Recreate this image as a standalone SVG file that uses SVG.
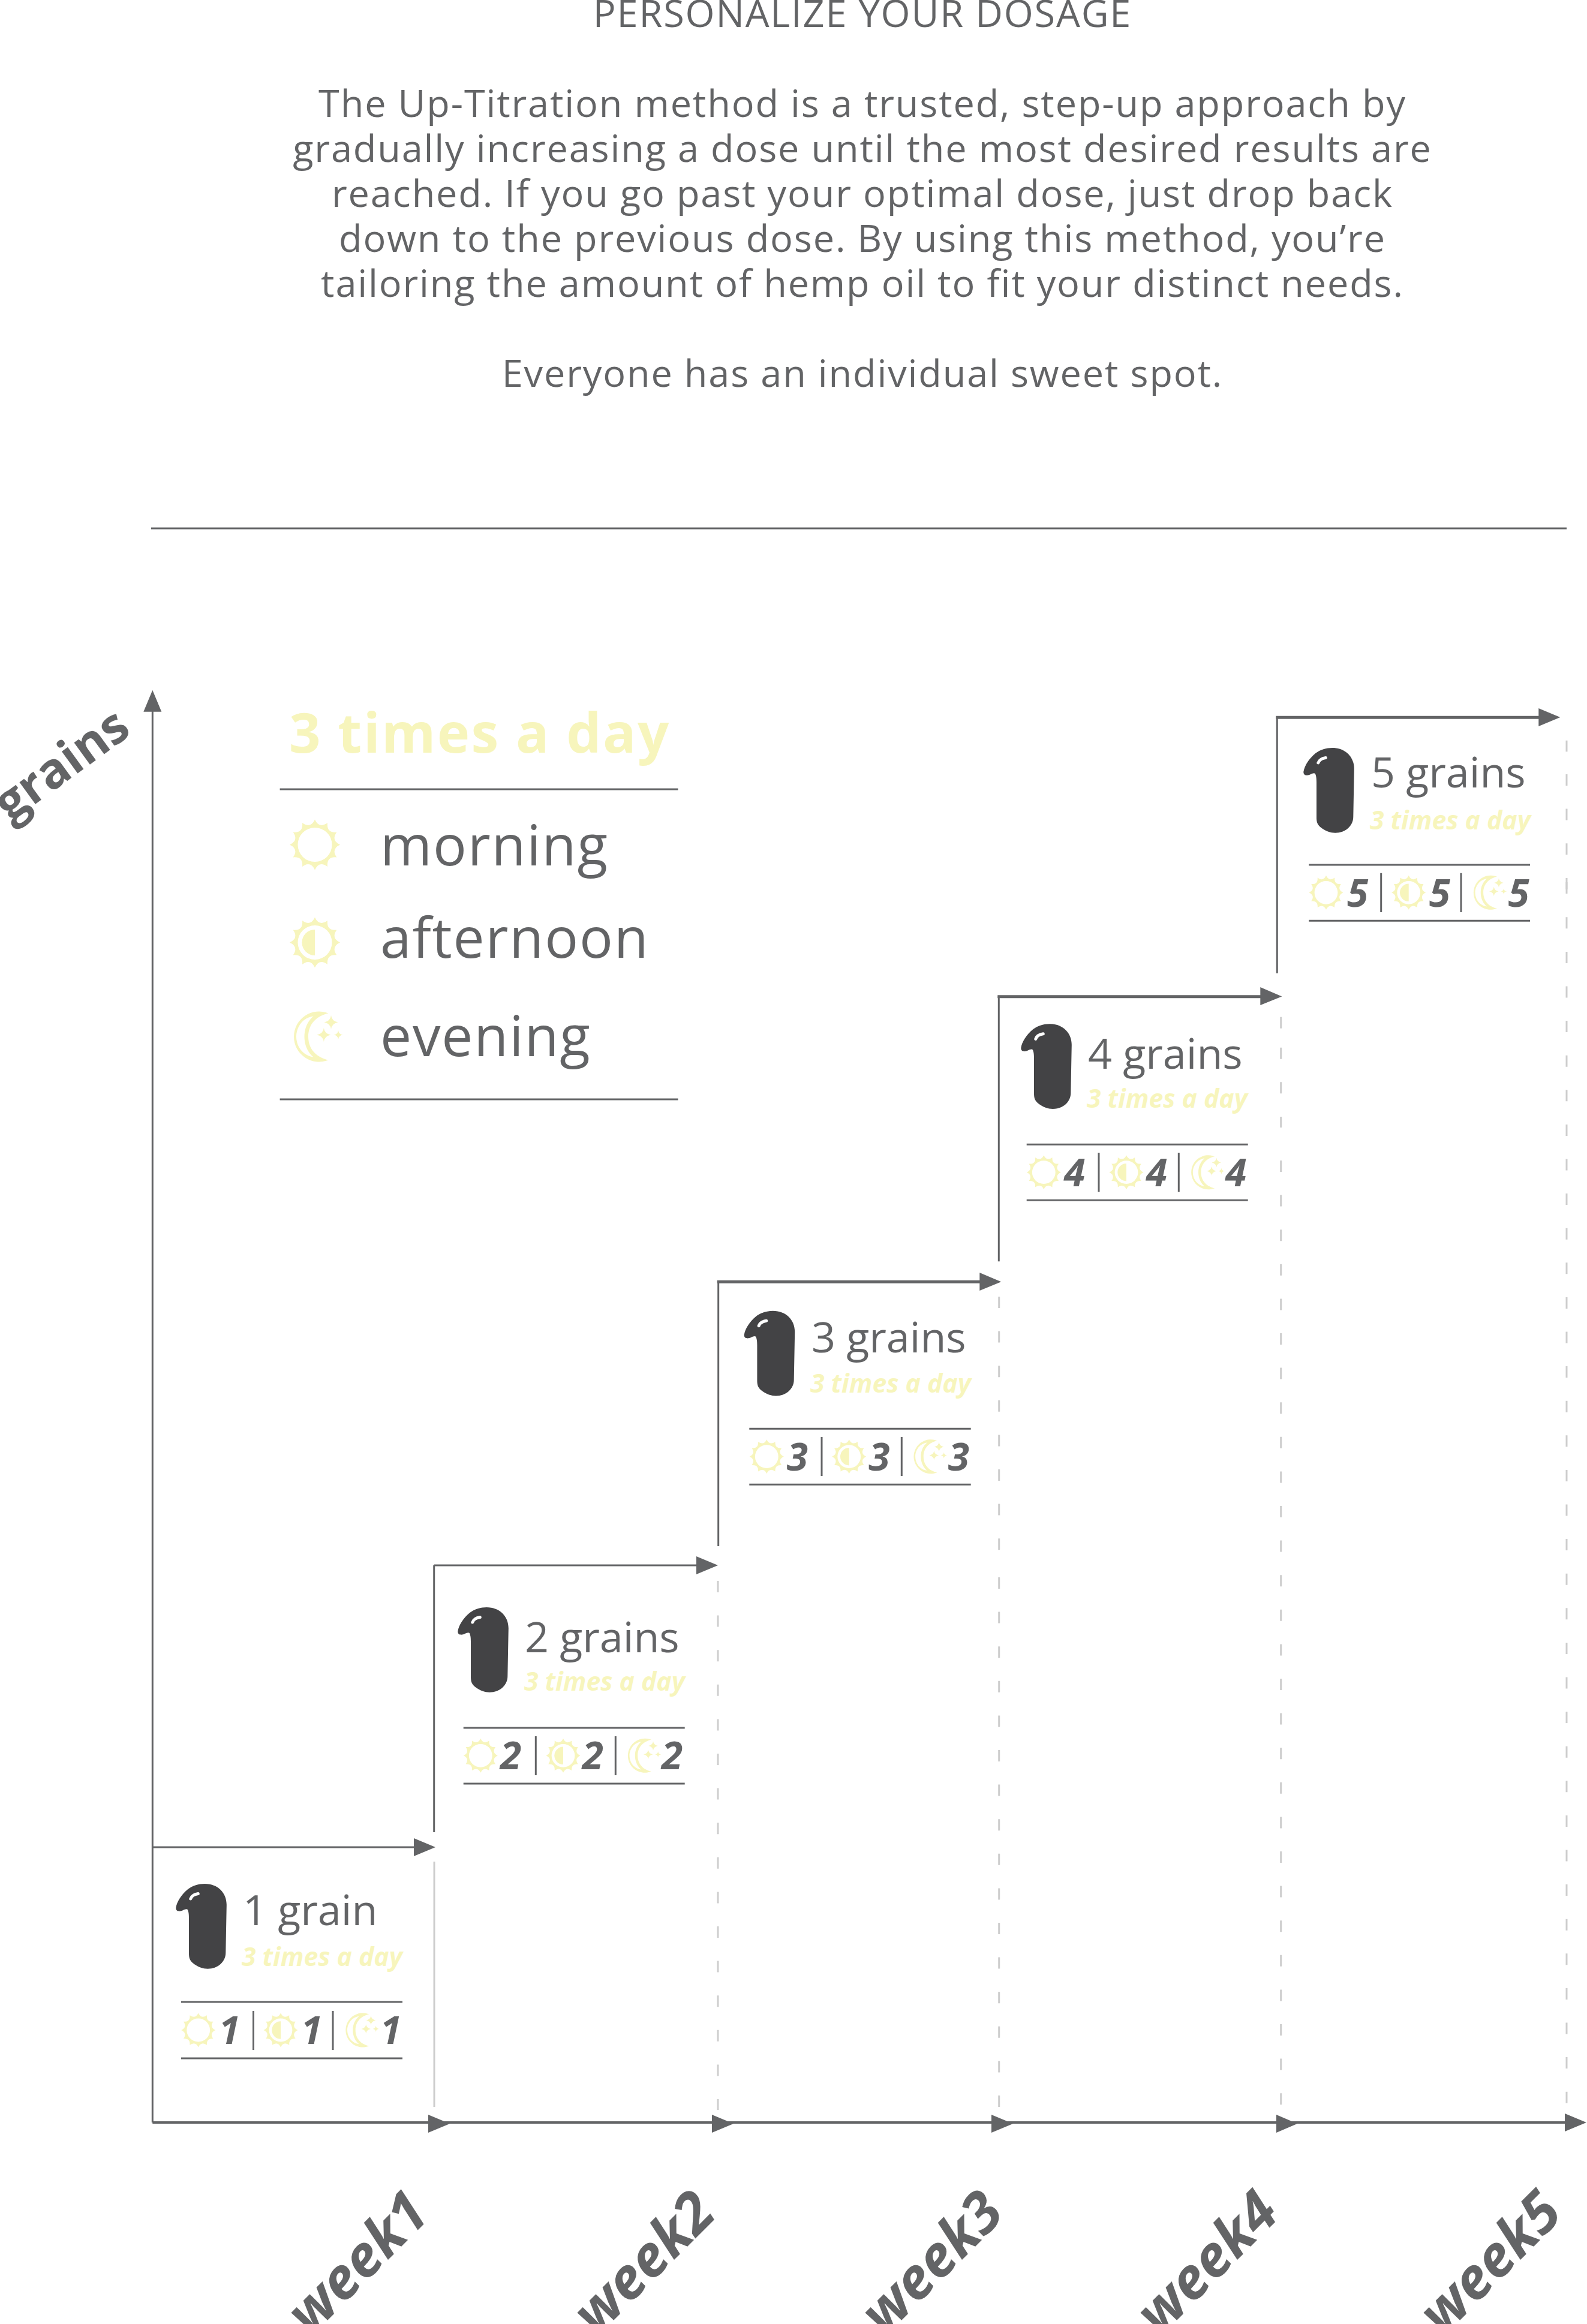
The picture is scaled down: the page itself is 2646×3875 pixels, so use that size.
<svg xmlns="http://www.w3.org/2000/svg" width="2646" height="3875" viewBox="0 0 2646 3875">
<style>
text{font-family:"Open Sans","Noto Sans",sans-serif;fill:#636466}
.intro{font-size:63px;text-anchor:middle;letter-spacing:1.85px}
.ttl{font-size:70px;font-weight:400}
.sub{font-size:42.7px;font-weight:700;font-style:italic;fill:#f7f5bc}
.num{font-size:64px;font-weight:700;font-style:italic}
.leg{font-size:93px;letter-spacing:1.8px}
.axl{font-size:95px;font-weight:700;font-style:italic}
.rule{stroke:#636466;stroke-width:3;fill:none}
.step{stroke:#636466;stroke-width:4;fill:none}
.dash{stroke:#cdcdcd;stroke-width:3;stroke-dasharray:19 38.6;fill:none}
.ico{fill:#f7f5bc}
.head{fill:#636466}
</style>
<defs>
<path id="sunrays" d="M0,-42Q7.1,-26.6 21,-36.4Q19.4,-19.4 36.4,-21Q26.6,-7.1 42,0Q26.6,7.1 36.4,21Q19.4,19.4 21,36.4Q7.1,26.6 0,42Q-7.1,26.6 -21,36.4Q-19.4,19.4 -36.4,21Q-26.6,7.1 -42,0Q-26.6,-7.1 -36.4,-21Q-19.4,-19.4 -21,-36.4Q-7.1,-26.6 0,-42ZM0,-28.5A28.5,28.5 0 1 0 0,28.5A28.5,28.5 0 1 0 0,-28.5Z" fill-rule="evenodd"/>
<g id="sun" class="ico"><use href="#sunrays"/></g>
<g id="half" class="ico"><use href="#sunrays"/><path d="M0,-21.6A21.6,21.6 0 0 0 0,21.6Z"/></g>
<g id="moon" class="ico"><path fill-rule="evenodd" d="M20.6,-39A42,42 0 1 0 20.6,39C2,35 -13,22 -13,0C-13,-22 2,-35 20.6,-39ZM-4.5,-34C-22,-32 -33,-16 -33,0C-33,16 -22,32 -4.5,34C-14,26 -19.5,14 -19.5,0C-19.5,-14 -14,-26 -4.5,-34Z"/><path d="M12.9,-14.5Q14,-5 24.4,-3Q14,-1 12.9,8.5Q11.8,-1 1.4,-3Q11.8,-5 12.9,-14.5Z"/><path d="M25,-35.5Q26.1,-26 36.5,-24Q26.1,-22 25,-12.5Q23.9,-22 13.5,-24Q23.9,-26 25,-35.5Z"/><path d="M37,-10.5Q37.7,-4 44.5,-3Q37.7,-2 37,4.5Q36.3,-2 29.5,-3Q36.3,-4 37,-10.5Z"/></g>
<g id="pill"><path fill="#434345" d="M0,40C1.5,30 9,18 20,9C28,3 38,0 48,0C70,0 84.5,15 84.5,35L83,115C83,130 70,141.7 53,141.7C45,141.7 37,139 28,132C22,127 21.7,121 21.7,115L21.7,57C21.7,50 21,46 19.5,43C18,41.5 15,42.5 12,44C7,46.5 0,47 0,40Z"/><path fill="none" stroke="#fff" stroke-width="5" stroke-linecap="round" d="M24.5,25Q27,18 37,16.5"/></g>
</defs>
<rect width="2646" height="3875" fill="#fff"/>

<g id="intro">
<text class="intro" x="1438" y="45">PERSONALIZE YOUR DOSAGE</text>
<text class="intro" x="1438" y="195">The Up-Titration method is a trusted, step-up approach by</text>
<text class="intro" x="1438" y="270">gradually increasing a dose until the most desired results are</text>
<text class="intro" x="1438" y="345">reached. If you go past your optimal dose, just drop back</text>
<text class="intro" x="1438" y="420">down to the previous dose. By using this method, you’re</text>
<text class="intro" x="1438" y="495">tailoring the amount of hemp oil to fit your distinct needs.</text>
<text class="intro" x="1438" y="645">Everyone has an individual sweet spot.</text>
<line class="rule" x1="252" y1="881" x2="2612" y2="881"/>
</g>

<g id="connectors">
<path class="rule" d="M254.3,1185V3539"/>
<path class="head" d="M254.3,1150.7L269.3,1186.7H239.3Z"/>
<path class="step" d="M254.3,3539H2612"/>
<path class="head" d="M714,3526L750,3541L714,3556Z"/>
<path class="head" d="M1187,3526L1223,3541L1187,3556Z"/>
<path class="head" d="M1653,3526L1689,3541L1653,3556Z"/>
<path class="head" d="M2128,3526L2163,3541L2128,3556Z"/>
<path class="head" d="M2609,3524L2645,3539L2609,3554Z"/>

<path class="rule" d="M254.3,3080H692"/><path class="head" d="M690,3065L726,3080L690,3095Z"/>
<path class="rule" d="M723.7,2610V3055"/>
<path class="rule" d="M723.7,2610H1163"/><path class="head" d="M1161,2595L1197,2610L1161,2625Z"/>
<path class="rule" d="M1197.7,2137V2578"/>
<path class="step" style="stroke-width:5" d="M1195.7,2137.3H1635"/><path class="head" d="M1633.3,2122L1669.3,2137.3L1633.3,2152Z"/>
<path class="rule" d="M1665.3,1661V2103.3"/>
<path class="step" style="stroke-width:5" d="M1663.3,1661.7H2103"/><path class="head" d="M2101.3,1646L2137.3,1661.5L2101.3,1676Z"/>
<path class="rule" d="M2129.3,1196V1622.7"/>
<path class="step" style="stroke-width:5" d="M2127.3,1196.3H2567"/><path class="head" d="M2565.3,1181L2601.3,1196L2565.3,1211Z"/>

<path d="M724,3104V3513" fill="none" stroke="#cdcdcd" stroke-width="3"/>
<path class="dash" d="M1197,2636V3518"/>
<path class="dash" d="M1665.7,2162V2590"/>
<path class="dash" d="M1665.7,2630V3513"/>
<path class="dash" d="M2135.7,1695.7V1715"/>
<path class="dash" d="M2135.7,1746.7V1880"/>
<path class="dash" d="M2135.7,1935V3513"/>
<path class="dash" d="M2612,1234.7V1253.3"/>
<path class="dash" d="M2612,1291V1425"/>
<path class="dash" d="M2612,1464V1483"/>
<path class="dash" d="M2612,1471V1490"/>
<path class="dash" d="M2612,1529.3V3513"/>
</g>

<g id="axis-y-label"><text transform="translate(16,1372) rotate(-36)" style="font-size:82.5px;font-weight:700">grains</text></g>
<g id="week1-label"><text class="axl" transform="translate(518,3897) rotate(-45)">week1</text></g>
<g id="week2-label"><text class="axl" transform="translate(995,3897) rotate(-45)">week2</text></g>
<g id="week3-label"><text class="axl" transform="translate(1475,3897) rotate(-45)">week3</text></g>
<g id="week4-label"><text class="axl" transform="translate(1934,3897) rotate(-45)">week4</text></g>
<g id="week5-label"><text class="axl" transform="translate(2406,3897) rotate(-45)">week5</text></g>

<g id="legend">
<text x="482" y="1255" style="font-size:92px;font-weight:700;fill:#f7f5bc;letter-spacing:2.4px">3 times a day</text>
<line class="rule" x1="466.6" y1="1316" x2="1130.5" y2="1316"/>
<use href="#sun" x="525" y="1408.5"/>
<text class="leg" x="634" y="1443">morning</text>
<use href="#half" x="525" y="1571.5"/>
<text class="leg" x="634" y="1597">afternoon</text>
<use href="#moon" x="527" y="1728.5"/>
<text class="leg" x="634" y="1761">evening</text>
<line class="rule" x1="466.6" y1="1833" x2="1130.5" y2="1833"/>
</g>

<g id="card1">
<use href="#pill" x="293.3" y="3141"/>
<text class="ttl" x="405" y="3210">1 grain</text>
<text class="sub" x="403" y="3278">3 times a day</text>
<path class="rule" d="M302,3338H671M302,3432H671M422.5,3353V3418M555,3353V3418"/>
<use href="#sun" transform="translate(330.7,3385) scale(.68)"/>
<use href="#half" transform="translate(468,3385) scale(.68)"/>
<use href="#moon" transform="translate(601.5,3385) scale(.68)"/>
<text class="num" x="365" y="3408">1</text><text class="num" x="502" y="3408">1</text><text class="num" x="634" y="3408">1</text>
</g>
<g id="card2">
<use href="#pill" x="763.3" y="2680"/>
<text class="ttl" x="875" y="2755.3">2 grains</text>
<text class="sub" x="874" y="2819.3">3 times a day</text>
<path class="rule" d="M772.7,2881H1141.7M772.7,2974H1141.7M893.3,2895V2960M1026.3,2895V2960"/>
<use href="#sun" transform="translate(801.3,2927.3) scale(.68)"/>
<use href="#half" transform="translate(939,2927.3) scale(.68)"/>
<use href="#moon" transform="translate(1072,2927.3) scale(.68)"/>
<text class="num" x="834" y="2950">2</text><text class="num" x="970.7" y="2950">2</text><text class="num" x="1103" y="2950">2</text>
</g>
<g id="card3">
<use href="#pill" x="1240.7" y="2185.7"/>
<text class="ttl" x="1353" y="2255">3 grains</text>
<text class="sub" x="1351" y="2321.7">3 times a day</text>
<path class="rule" d="M1249.3,2382.3H1618.7M1249.3,2475.3H1618.7M1370,2396V2461M1503.3,2396V2461"/>
<use href="#sun" transform="translate(1278.3,2428.7) scale(.68)"/>
<use href="#half" transform="translate(1415.7,2428.7) scale(.68)"/>
<use href="#moon" transform="translate(1548.6,2428.7) scale(.68)"/>
<text class="num" x="1311.7" y="2451.7">3</text><text class="num" x="1448.3" y="2451.7">3</text><text class="num" x="1580.7" y="2451.7">3</text>
</g>
<g id="card4">
<use href="#pill" x="1702.3" y="1707.3"/>
<text class="ttl" x="1814" y="1781.7">4 grains</text>
<text class="sub" x="1812" y="1846.7">3 times a day</text>
<path class="rule" d="M1711.7,1908.3H2080.7M1711.7,2001.3H2080.7M1832,1922V1987.3M1965.3,1922V1987.3"/>
<use href="#sun" transform="translate(1740.3,1954.7) scale(.68)"/>
<use href="#half" transform="translate(1878,1954.7) scale(.68)"/>
<use href="#moon" transform="translate(2011.3,1954.7) scale(.68)"/>
<text class="num" x="1774" y="1978.3">4</text><text class="num" x="1910.7" y="1978.3">4</text><text class="num" x="2043" y="1978.3">4</text>
</g>
<g id="card5">
<use href="#pill" x="2173.3" y="1247"/>
<text class="ttl" x="2286" y="1313.3">5 grains</text>
<text class="sub" x="2284" y="1382.7">3 times a day</text>
<path class="rule" d="M2182.3,1442H2551M2182.3,1535.3H2551M2302.7,1455.7V1521M2436,1455.7V1521"/>
<use href="#sun" transform="translate(2211,1488.3) scale(.68)"/>
<use href="#half" transform="translate(2348.7,1488.3) scale(.68)"/>
<use href="#moon" transform="translate(2482,1488.3) scale(.68)"/>
<text class="num" x="2246" y="1511.7">5</text><text class="num" x="2382.7" y="1511.7">5</text><text class="num" x="2514.5" y="1511.7">5</text>
</g>
</svg>
